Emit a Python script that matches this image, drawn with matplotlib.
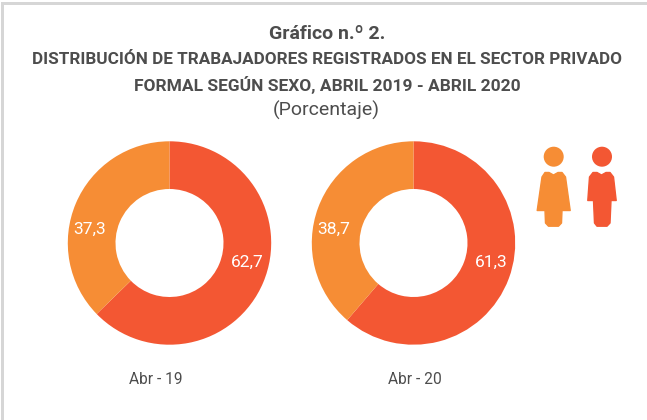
import matplotlib
matplotlib.use("Agg")
import matplotlib.pyplot as plt
from matplotlib.patches import Circle, Polygon, Rectangle

W, H = 647, 420

periods = ["Abr - 19", "Abr - 20"]
hombres = [62.7, 61.3]
mujeres = [37.3, 38.7]

title = "Gráfico n.º 2."
subtitle = ["DISTRIBUCIÓN DE TRABAJADORES REGISTRADOS EN EL SECTOR PRIVADO",
            "FORMAL SEGÚN SEXO, ABRIL 2019 - ABRIL 2020"]
unit = "(Porcentaje)"

RED = "#F35733"
ORANGE = "#F68D35"
TEXT = "#4D4D4D"
GREY = "#D6D6D6"

plt.rcParams["font.family"] = ["Roboto", "DejaVu Sans"]

fig = plt.figure(figsize=(W / 100, H / 100), dpi=100)
bg = fig.add_axes([0, 0, 1, 1])
bg.set_xlim(0, W)
bg.set_ylim(H, 0)
bg.axis("off")

# frame, only left and top are visible in the crop
bg.add_patch(Rectangle((1, 2), W, 2.5, color=GREY, lw=0))
bg.add_patch(Rectangle((1, 2), 2.5, H, color=GREY, lw=0))

bg.text(327, 34, title, ha="center", va="center", fontsize=14, fontweight="bold", color=TEXT)
bg.text(327, 60, subtitle[0], ha="center", va="center", fontsize=12.36, fontweight="bold", color=TEXT)
bg.text(327, 84.5, subtitle[1], ha="center", va="center", fontsize=12.5, fontweight="bold", color=TEXT)
bg.text(326, 110, unit, ha="center", va="center", fontsize=14, color=TEXT)


def draw_donut(cx, cy, r, vals, label, label_x):
    ax = fig.add_axes([(cx - r) / W, 1 - (cy + r) / H, 2 * r / W, 2 * r / H])
    ax.pie(vals, colors=[RED, ORANGE], startangle=90, counterclock=False, radius=1,
           wedgeprops={"width": 0.469, "linewidth": 0})
    ax.set_xlim(-1, 1)
    ax.set_ylim(-1, 1)
    ax.text(0.765, -0.19, "{:.1f}".format(vals[0]).replace(".", ","), ha="center", va="center",
            fontsize=12.5, color="white")
    ax.text(-0.785, 0.13, "{:.1f}".format(vals[1]).replace(".", ","), ha="center", va="center",
            fontsize=12.5, color="white")
    bg.text(label_x, 379.5, label, ha="center", va="center", fontsize=11.2, color=TEXT)


draw_donut(169.5, 243, 101.7, [hombres[0], mujeres[0]], periods[0], 156)
draw_donut(413.5, 243, 101.7, [hombres[1], mujeres[1]], periods[1], 415)

# icons
bg.add_patch(Circle((553.7, 156.7), 10, color=ORANGE, lw=0))
bg.add_patch(Circle((602, 156.7), 10, color=RED, lw=0))
woman = [(545, 172.5), (549, 172.5), (553.5, 175), (558, 172.5), (562, 172.5), (565.5, 177), (570.2, 210.5),
         (562, 210.5), (561.5, 223), (558.5, 226.2), (548.5, 226.2), (545.5, 223), (545, 210.5),
         (537.2, 210.5), (542, 177)]
man = [(593, 172.5), (597, 172.5), (601.5, 175), (606, 172.5), (610, 172.5), (613.5, 177), (616.2, 200.5),
       (611, 200.5), (610, 223), (607, 226.2), (597, 226.2), (594.5, 223), (593.5, 200.5),
       (587.8, 200.5), (589.5, 177)]
bg.add_patch(Polygon(woman, closed=True, facecolor=ORANGE, edgecolor=ORANGE, lw=1, joinstyle="round"))
bg.add_patch(Polygon(man, closed=True, facecolor=RED, edgecolor=RED, lw=1, joinstyle="round"))

fig.savefig("out.png", dpi=100)
